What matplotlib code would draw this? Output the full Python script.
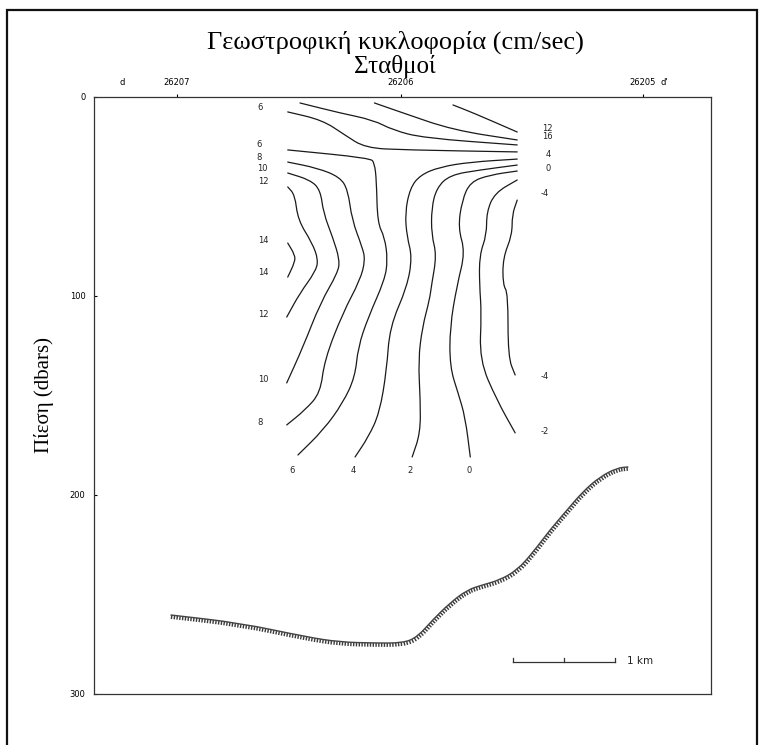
import matplotlib
matplotlib.use("Agg")
import matplotlib.pyplot as pyplot
import matplotlib.patheffects as patheffects
from matplotlib.patches import Rectangle, PathPatch
from matplotlib.path import Path

title = "Γεωστροφική κυκλοφορία (cm/sec)"
subtitle = "Σταθμοί"
y_title = "Πίεση (dbars)"

station_names = ["d", "26207", "26206", "26205", "d'"]
station_km = [0.28, 0.81, 3.01, 5.38, 5.59]
pressure_ticks = [0, 100, 200, 300]

iso_12_top = [(3.52, 4.0), (3.72, 8.0), (4.15, 17.6)]
iso_10_top = [(2.75, 3.0), (3.03, 8.0), (3.52, 16.6), (4.15, 21.6)]
iso_8_top = [(2.02, 3.0), (2.41, 8.0), (2.74, 11.6), (2.93, 16.6), (3.23, 20.6), (4.15, 24.1)]
iso_6_top = [(1.90, 7.5), (2.24, 11.6), (2.46, 19.1), (2.66, 25.6), (3.05, 26.6), (4.15, 27.6)]
iso_14 = [(1.90, 73.4), (1.97, 79.4), (1.97, 82.9), (1.90, 90.5)]
iso_12 = [(1.90, 45.2), (1.97, 49.2), (2.00, 61.8), (2.14, 73.4), (2.20, 81.9), (2.17, 87.9),
          (2.02, 98.5), (1.89, 110.6)]
iso_10 = [(1.90, 38.2), (2.12, 41.7), (2.22, 46.7), (2.25, 58.3), (2.34, 70.4), (2.41, 81.9),
          (2.39, 88.4), (2.22, 103.5), (2.05, 125.6), (1.89, 143.7)]
iso_8 = [(1.90, 32.7), (2.19, 35.7), (2.41, 40.2), (2.49, 46.7), (2.53, 61.8), (2.63, 75.4),
         (2.66, 81.9), (2.61, 92.0), (2.44, 108.5), (2.26, 132.2), (2.22, 148.7), (2.07, 157.3),
         (1.89, 164.8)]
iso_6 = [(1.90, 26.6), (2.71, 30.7), (2.75, 33.2), (2.77, 41.7), (2.78, 63.3), (2.85, 70.4),
         (2.88, 81.9), (2.85, 92.0), (2.69, 110.6), (2.59, 125.6), (2.56, 140.7), (2.44, 153.8),
         (2.25, 167.3), (2.00, 179.9)]
iso_4 = [(4.15, 31.2), (3.69, 32.7), (3.39, 35.2), (3.20, 39.2), (3.10, 45.7), (3.05, 58.3),
         (3.07, 70.4), (3.12, 80.4), (3.07, 95.5), (2.90, 115.6), (2.87, 137.2), (2.80, 158.8),
         (2.69, 170.9), (2.56, 180.9)]
iso_2 = [(4.15, 34.2), (3.78, 36.7), (3.49, 39.2), (3.36, 45.7), (3.31, 55.8), (3.31, 69.3),
         (3.36, 79.4), (3.31, 94.5), (3.29, 102.0), (3.22, 115.6), (3.18, 132.2), (3.20, 152.3),
         (3.20, 168.8), (3.12, 180.9)]
iso_0 = [(4.15, 37.2), (3.88, 39.2), (3.69, 42.7), (3.61, 51.8), (3.57, 65.8), (3.64, 77.9),
         (3.56, 94.5), (3.49, 115.6), (3.49, 135.7), (3.57, 148.7), (3.64, 160.8), (3.69, 180.9)]
iso_m2 = [(4.15, 41.7), (3.93, 48.2), (3.85, 57.8), (3.85, 69.3), (3.78, 79.4), (3.78, 94.5),
          (3.80, 108.5), (3.78, 132.2), (3.95, 152.3), (4.13, 168.8)]
iso_m4 = [(4.15, 51.8), (4.10, 59.3), (4.10, 69.3), (4.01, 80.9), (4.01, 94.5), (4.06, 98.5),
          (4.06, 130.7), (4.13, 139.7)]

seabed = [(0.75, 260.3), (1.43, 264.3), (2.09, 271.4), (2.41, 273.9), (2.74, 274.4), (3.03, 274.4),
          (3.17, 271.4), (3.32, 262.8), (3.49, 254.3), (3.66, 247.7), (3.81, 245.2), (3.98, 242.7),
          (4.15, 237.7), (4.30, 229.1), (4.47, 217.6), (4.64, 207.5), (4.79, 198.5), (4.96, 190.9),
          (5.13, 186.4), (5.24, 185.9)]

label_text = ["6", "6", "8", "10", "12", "14", "14", "12", "10", "8",
              "6", "4", "2", "0",
              "12", "16", "4", "0", "-4", "-4", "-2"]
label_km = [1.63, 1.62, 1.62, 1.65, 1.66, 1.66, 1.66, 1.66, 1.66, 1.63,
            1.94, 2.54, 3.10, 3.68,
            4.45, 4.45, 4.45, 4.45, 4.42, 4.42, 4.42]
label_p = [5.5, 24.1, 30.2, 35.7, 42.7, 71.9, 88.4, 109.5, 142.2, 163.8,
           187.9, 187.9, 187.9, 187.9,
           15.6, 19.6, 29.1, 35.7, 48.7, 140.7, 168.3]

scale_km = [4.11, 4.61, 5.11]
scale_p = 283.9

contours = [iso_12_top, iso_10_top, iso_8_top, iso_6_top, iso_14, iso_12, iso_10, iso_8,
            iso_6, iso_4, iso_2, iso_0, iso_m2, iso_m4]


def smooth_path(pts):
    # quadratic pieces through the mid-points, read points act as controls
    verts = [pts[0]]
    codes = [Path.MOVETO]
    if len(pts) > 2:
        for i in range(1, len(pts) - 1):
            a, b = pts[i - 1], pts[i]
            mid = ((a[0] + b[0]) / 2, (a[1] + b[1]) / 2)
            if i == 1:
                verts.append(mid)
                codes.append(Path.LINETO)
            c = pts[i + 1]
            mid2 = ((b[0] + c[0]) / 2, (b[1] + c[1]) / 2)
            verts += [b, mid2]
            codes += [Path.CURVE3, Path.CURVE3]
    verts.append(pts[-1])
    codes.append(Path.LINETO)
    return Path(verts, codes)


fig = pyplot.figure(figsize=(7.64, 7.45), dpi=100)
ax = fig.add_axes([0.123, 0.0685, 0.8076, 0.8013])
ax.set_xlim(0, 6.05)
ax.set_ylim(300, 0)

for line in contours:
    ax.add_patch(PathPatch(smooth_path(line), fill=False, edgecolor="#1a1a1a",
                           linewidth=0.9, capstyle="round", joinstyle="round"))

for t, x, p in zip(label_text, label_km, label_p):
    ax.text(x, p, t, fontsize=6, ha="center", va="center", family="DejaVu Sans", color="#222222")

# bottom, hatched
ax.add_patch(PathPatch(smooth_path(seabed), fill=False, edgecolor="#444444", linewidth=1.0,
                       path_effects=[patheffects.withTickedStroke(angle=-90, spacing=2.0, length=1.4,
                                                                  linewidth=1.0, foreground="#3a3a3a")]))

# scale bar
ax.plot([scale_km[0], scale_km[2]], [scale_p, scale_p], color="#333333", linewidth=0.9)
for sx in scale_km:
    ax.plot([sx, sx], [scale_p, scale_p - 2], color="#333333", linewidth=0.9)
ax.text(scale_km[2] + 0.12, scale_p - 0.5, "1 km", fontsize=7.5, ha="left", va="center",
        family="DejaVu Sans", color="#222222")

ax.xaxis.tick_top()
ax.set_xticks(station_km)
ax.set_xticklabels(station_names)
ax.tick_params(axis="x", direction="out", length=2, width=0.8, labelsize=6, pad=5)
for i, tick in enumerate(ax.xaxis.get_major_ticks()):
    if station_names[i] in ("d", "d'"):
        tick.tick1line.set_visible(False)
        tick.tick2line.set_visible(False)
ax.set_yticks(pressure_ticks)
ax.tick_params(axis="y", direction="in", length=2, width=0.8, labelsize=6, pad=6)
for spine in ax.spines.values():
    spine.set_linewidth(0.9)
    spine.set_color("#333333")

fig.text(0.517, 0.9436, title, fontsize=19, family="Liberation Serif", ha="center", va="center")
fig.text(0.517, 0.9114, subtitle, fontsize=18, family="Liberation Serif", ha="center", va="center")
fig.text(0.058, 0.47, y_title, fontsize=15, family="Liberation Serif", rotation=90,
         ha="center", va="center")

fig.add_artist(Rectangle((0.009, -0.02), 0.982, 1.0066, transform=fig.transFigure,
                         fill=False, edgecolor="#111111", linewidth=1.6))

pyplot.savefig("out.png", dpi=100)
